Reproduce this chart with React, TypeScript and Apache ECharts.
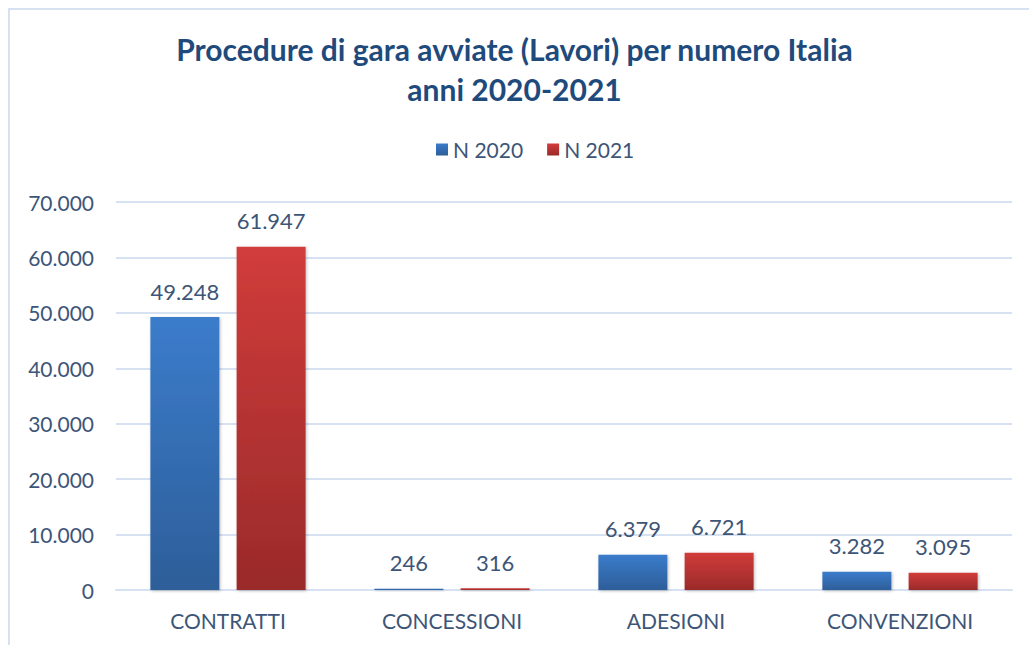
import React, { useEffect, useRef } from "react";
import * as echarts from "echarts";

const categories = ["CONTRATTI", "CONCESSIONI", "ADESIONI", "CONVENZIONI"];
const seriesNames = ["N 2020", "N 2021"];
const values2020 = [49248, 246, 6379, 3282];
const values2021 = [61947, 316, 6721, 3095];
const titleText = "Procedure di gara avviate (Lavori) per numero Italia\nanni 2020-2021";

const fmt = (v: number) => String(Math.round(v)).replace(/\B(?=(\d{3})+(?!\d))/g, ".");

const FONT = "Lato, 'Open Sans', sans-serif";
const TEXT = "#3D5577";

export default function App() {
  const ref = useRef<HTMLDivElement>(null);
  useEffect(() => {
    document.body.style.margin = "0";
    const chart = echarts.init(ref.current!, null, { renderer: "svg" });
    const grad = (top: string, bottom: string) =>
      new echarts.graphic.LinearGradient(0, 0, 0, 1, [
        { offset: 0, color: top },
        { offset: 1, color: bottom },
      ]);
    const labelCfg = {
      show: true,
      position: "top",
      distance: 15,
      color: TEXT,
      fontSize: 22,
      fontFamily: FONT,
      formatter: (p: any) => fmt(p.value),
    };
    chart.setOption({
      animation: false,
      backgroundColor: "#ffffff",
      graphic: [
        {
          type: "rect",
          shape: { x: 9, y: 9, width: 1040, height: 660 },
          style: { fill: "none", stroke: "#D6E2F2", lineWidth: 2 },
          silent: true,
        },
      ],
      title: {
        text: titleText,
        left: "center",
        top: 24,
        textStyle: {
          color: "#1F4A7C",
          fontSize: 30,
          fontWeight: "bold",
          fontFamily: FONT,
          lineHeight: 40,
        },
      },
      legend: {
        data: seriesNames,
        top: 134,
        left: 431,
        itemWidth: 12,
        itemHeight: 12,
        itemGap: 24,
        icon: "rect",
        textStyle: { color: TEXT, fontSize: 21, fontFamily: FONT },
      },
      grid: { left: 116, right: 17, top: 202, bottom: 55, containLabel: false },
      xAxis: {
        type: "category",
        data: categories,
        axisLine: { show: true, lineStyle: { color: "#D6E2F2", width: 2 } },
        axisTick: { show: false },
        axisLabel: { color: TEXT, fontSize: 21, fontFamily: FONT, margin: 20 },
      },
      yAxis: {
        type: "value",
        min: 0,
        max: 70000,
        interval: 10000,
        axisLine: { show: false },
        axisTick: { show: false },
        splitLine: { lineStyle: { color: "#D6E2F2", width: 2 } },
        axisLabel: {
          color: TEXT,
          fontSize: 21,
          fontFamily: FONT,
          margin: 22,
          formatter: (v: number) => fmt(v),
        },
      },
      series: [
        {
          name: seriesNames[0],
          type: "bar",
          data: values2020,
          barWidth: 69,
          barGap: "25%",
          itemStyle: {
            color: grad("#3B7CCB", "#2D5E99"),
            shadowColor: "rgba(0,0,0,0.25)",
            shadowBlur: 3,
            shadowOffsetX: 1,
            shadowOffsetY: 1,
          },
          label: labelCfg,
        },
        {
          name: seriesNames[1],
          type: "bar",
          data: values2021,
          barWidth: 69,
          itemStyle: {
            color: grad("#D13C3B", "#9A2A2A"),
            shadowColor: "rgba(0,0,0,0.25)",
            shadowBlur: 3,
            shadowOffsetX: 1,
            shadowOffsetY: 1,
          },
          label: labelCfg,
        },
      ],
    });
    return () => chart.dispose();
  }, []);
  return <div ref={ref} style={{ width: 1029, height: 645 }} />;
}
